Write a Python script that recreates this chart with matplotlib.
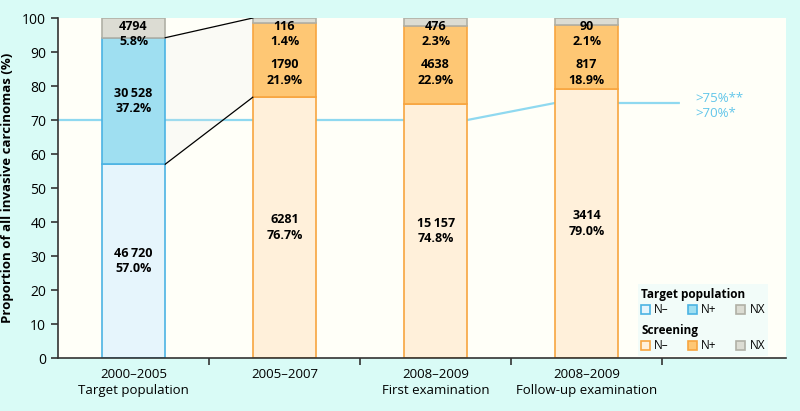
import numpy as np
import matplotlib.pyplot as plt
from matplotlib.patches import Patch, Polygon

plt.rcParams['font.family'] = ['Open Sans', 'DejaVu Sans']

# data
categories = ['2000–2005\nTarget population', '2005–2007',
              '2008–2009\nFirst examination', '2008–2009\nFollow-up examination']
n_neg_pct = [57.0, 76.7, 74.8, 79.0]
n_pos_pct = [37.2, 21.9, 22.9, 18.9]
n_x_pct = [5.8, 1.4, 2.3, 2.1]
n_neg_cnt = ['46\u2009720', '6281', '15\u2009157', '3414']
n_pos_cnt = ['30\u2009528', '1790', '4638', '817']
n_x_cnt = ['4794', '116', '476', '90']
target_x = [-0.5, 2.21, 2.79, 3.61]
target_y = [70, 70, 75, 75]

bg = '#d9fbf6'
tp_cols = ['#e6f5fc', '#9fdff1', '#dcdcd3']
tp_edge = ['#4cb3e3', '#4cb3e3', '#b0b0a6']
sc_cols = ['#fff0da', '#fec774', '#dcdcd3']
sc_edge = ['#f7a540', '#f7a540', '#b0b0a6']

fig = plt.figure(figsize=(8, 4.11), dpi=100, facecolor=bg)
ax = fig.add_axes([58/800, 53/411, 728/800, 340/411])
ax.set_facecolor('#fffff8')

x = np.arange(len(categories))
w = 0.42
ax.plot(target_x, target_y, color='#8fd9f0', lw=1.6, zorder=1)

for i in range(len(x)):
    cols = tp_cols if i == 0 else sc_cols
    eds = tp_edge if i == 0 else sc_edge
    bottom = 0
    for val, c, e in zip([n_neg_pct[i], n_pos_pct[i], n_x_pct[i]], cols, eds):
        ax.bar(x[i], val, w, bottom=bottom, color=c, edgecolor=e, lw=1.2, zorder=2)
        bottom += val

# connector from target population to 2005-2007
x0 = x[0] + w/2
x1 = x[1] - w/2
top0 = n_neg_pct[0] + n_pos_pct[0]
poly = Polygon([[x0, top0], [x1, 100], [x1, n_neg_pct[1]], [x0, n_neg_pct[0]]],
               closed=True, facecolor='#e6e6ea', alpha=0.18, lw=0, zorder=1.5)
ax.add_patch(poly)
ax.plot([x0, x1], [top0, 100], color='black', lw=0.9, zorder=3)
ax.plot([x0, x1], [n_neg_pct[0], n_neg_pct[1]], color='black', lw=0.9, zorder=3)

fs = 9
for i in range(len(x)):
    ax.text(x[i], n_neg_pct[i] / 2, f'{n_neg_cnt[i]}\n{n_neg_pct[i]:.1f}%',
            ha='center', va='center', fontsize=fs, fontweight='bold',
            linespacing=1.25, zorder=4)
    ypos = n_neg_pct[i] + n_pos_pct[i] / 2 if i == 0 else 84
    ax.text(x[i], ypos, f'{n_pos_cnt[i]}\n{n_pos_pct[i]:.1f}%',
            ha='center', va='center', fontsize=fs, fontweight='bold',
            linespacing=1.25, zorder=4)
    ax.text(x[i], 95.3, f'{n_x_cnt[i]}\n{n_x_pct[i]:.1f}%',
            ha='center', va='center', fontsize=fs, fontweight='bold',
            linespacing=1.25, zorder=4)

ax.text(3.72, 76.2, '>75%**', color='#62c6ea', fontsize=9.5, va='center')
ax.text(3.72, 71.8, '>70%*', color='#62c6ea', fontsize=9.5, va='center')

ax.set_xlim(-0.5, 4.32)
ax.set_ylim(0, 100)
ax.set_yticks(range(0, 101, 10))
ax.set_xticks([0.5, 1.5, 2.5, 3.5])
ax.set_xticklabels([])
ax.set_xticks(x, minor=True)
ax.set_xticklabels(categories, minor=True, fontsize=9.5, linespacing=1.3)
ax.tick_params(axis='x', which='minor', length=0, pad=7)
ax.tick_params(axis='x', which='major', length=5, width=1.2, color='#333333')
ax.tick_params(axis='y', length=5, width=1.2, color='#333333', labelsize=10)
for s in ['top', 'right']:
    ax.spines[s].set_visible(False)
for s in ['left', 'bottom']:
    ax.spines[s].set_color('#333333')
    ax.spines[s].set_linewidth(1.2)
ax.set_ylabel('Proportion of all invasive carcinomas (%)', fontsize=9.5,
              fontweight='bold', labelpad=6)

labels = ['N–', 'N+', 'NX']
h1 = [Patch(facecolor=c, edgecolor=e, lw=1.2) for c, e in zip(tp_cols, tp_edge)]
h2 = [Patch(facecolor=c, edgecolor=e, lw=1.2) for c, e in zip(sc_cols, sc_edge)]
common = dict(ncol=3, fontsize=8.5, frameon=True, fancybox=False, handlelength=0.75,
              handleheight=0.75, columnspacing=1.0, handletextpad=0.35,
              alignment='left', borderpad=0.3, labelspacing=0.2, mode='expand',
              loc='upper left', title_fontproperties={'weight': 'bold', 'size': 8.5})
leg1 = ax.legend(h1, labels, title='Target population',
                 bbox_to_anchor=(0.788, 0.137, 0.196, 0.098), **common)
leg1.get_frame().set_facecolor('#effcfa')
leg1.get_frame().set_edgecolor('none')
leg1._legend_box.sep = 2
ax.add_artist(leg1)
leg2 = ax.legend(h2, labels, title='Screening',
                 bbox_to_anchor=(0.788, 0.031, 0.196, 0.098), **common)
leg2.get_frame().set_facecolor('#effcfa')
leg2.get_frame().set_edgecolor('none')
leg2._legend_box.sep = 2

plt.savefig('out.png', dpi=100, facecolor=bg)
